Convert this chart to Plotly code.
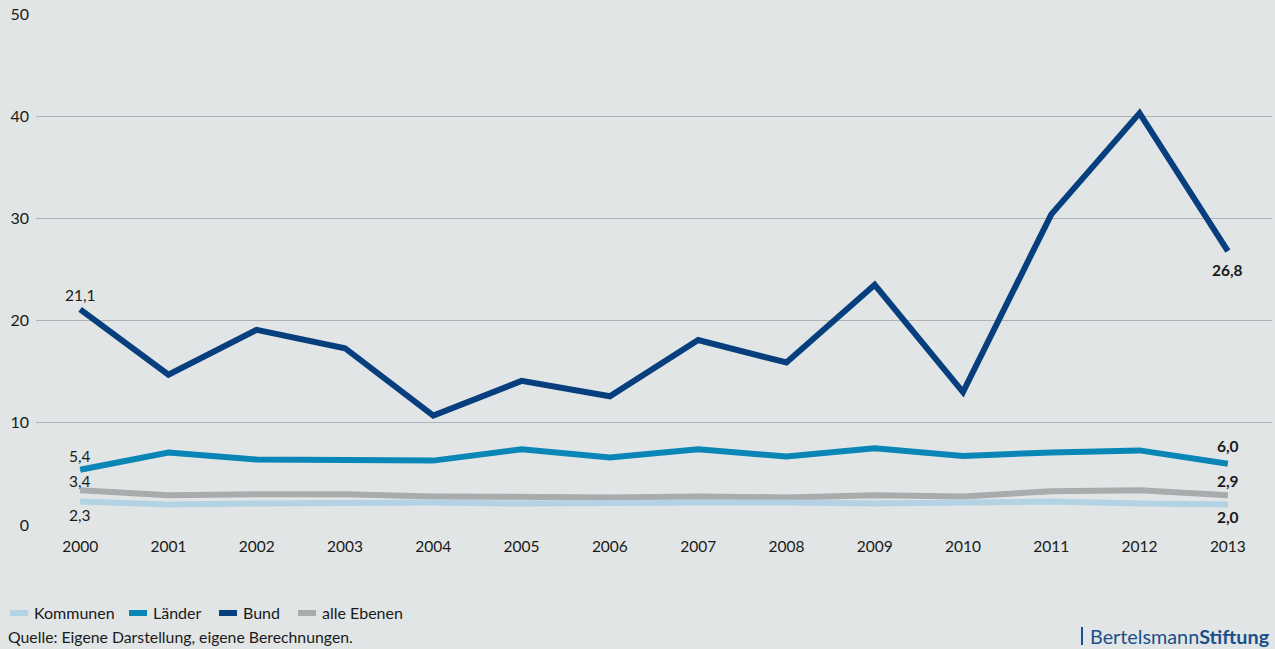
import plotly.graph_objects as go

years = [str(y) for y in range(2000, 2014)]
kommunen = [2.3, 2.0, 2.1, 2.2, 2.2, 2.1, 2.2, 2.2, 2.2, 2.1, 2.2, 2.3, 2.1, 2.0]
laender = [5.4, 7.1, 6.4, 6.4, 6.3, 7.4, 6.6, 7.4, 6.7, 7.5, 6.75, 7.1, 7.3, 6.0]
bund = [21.1, 14.7, 19.1, 17.3, 10.7, 14.1, 12.6, 18.1, 15.9, 23.5, 13.0, 30.4, 40.3, 26.8]
alle = [3.4, 2.9, 3.0, 3.0, 2.8, 2.7, 2.7, 2.8, 2.7, 2.9, 2.8, 3.3, 3.4, 2.9]

names = ["Kommunen", "Länder", "Bund", "alle Ebenen"]
colors = ["#b3d2e4", "#0a86b6", "#073f7e", "#a9abad"]
series = [kommunen, laender, bund, alle]
# label pixel offsets for first/last point labels (positive = above)
first_shift = [-14, 14, 14, 9]
last_shift = [-12, 18, -19, 14]

FONT = "Lato, 'Open Sans', sans-serif"
BG = "#e1e5e6"
TXT = "#1a1a1a"

fig = go.Figure()
for i in [2, 1, 3, 0]:
    fig.add_trace(go.Scatter(x=years, y=series[i], mode="lines", name=names[i],
                             line=dict(color=colors[i], width=6), showlegend=False,
                             hoverinfo="x+y"))

def fmt(v):
    return f"{v:.1f}".replace(".", ",")

ann = []
last_idx = len(years) - 1
for i in range(4):
    s = series[i]
    ann.append(dict(x=0, y=s[0], text=fmt(s[0]), showarrow=False,
                    yshift=first_shift[i], font=dict(size=15.5, color=TXT, family=FONT)))
    ann.append(dict(x=last_idx, y=s[-1], text="<b>" + fmt(s[-1]) + "</b>", showarrow=False,
                    yshift=last_shift[i], font=dict(size=15.5, color=TXT, family=FONT)))

# custom legend
PW = 1236.0
PH = 511.0
def px(xpix):
    return (xpix - 36) / PW
def py(ypix):
    return (525 - ypix) / PH

shapes = []
leg_x = [8, 127, 217, 296]
for i in range(4):
    shapes.append(dict(type="line", xref="paper", yref="paper",
                       x0=px(leg_x[i] + 2), x1=px(leg_x[i] + 20), y0=py(613), y1=py(613),
                       line=dict(color=colors[i], width=6)))
    ann.append(dict(xref="paper", yref="paper", x=px(leg_x[i] + 24), y=py(612),
                    xanchor="left", yanchor="middle", text=names[i], showarrow=False,
                    font=dict(size=16, color=TXT, family=FONT)))

ann.append(dict(xref="paper", yref="paper", x=px(6), y=py(636), xanchor="left", yanchor="middle",
                text="Quelle: Eigene Darstellung, eigene Berechnungen.", showarrow=False,
                font=dict(size=15.8, color=TXT, family=FONT)))
shapes.append(dict(type="line", xref="paper", yref="paper", x0=px(1082), x1=px(1082),
                   y0=py(627), y1=py(645), line=dict(color="#1b4f8a", width=2)))
ann.append(dict(xref="paper", yref="paper", x=px(1272), y=py(636), xanchor="right", yanchor="middle",
                text="Bertelsmann<b>Stiftung</b>", showarrow=False,
                font=dict(size=19.8, color="#1b4f8a", family=FONT)))

fig.update_layout(
    width=1275, height=649,
    margin=dict(l=36, r=3, t=14, b=124),
    paper_bgcolor=BG, plot_bgcolor=BG,
    font=dict(family=FONT, size=15.5, color=TXT),
    xaxis=dict(type="category", range=[-0.5, 13.5], showgrid=False, zeroline=False,
               showline=False, ticks="", tickfont=dict(size=15.5, color=TXT),
               ticklabelstandoff=10),
    yaxis=dict(range=[0, 50], tickvals=[0, 10, 20, 30, 40, 50], showgrid=True,
               gridcolor="#aeb2b4", gridwidth=1, zeroline=False, showline=False,
               ticks="", tickfont=dict(size=16, color=TXT), ticklabelstandoff=6),
    annotations=ann,
    shapes=shapes,
    showlegend=False,
)

fig.write_html("out.html")
